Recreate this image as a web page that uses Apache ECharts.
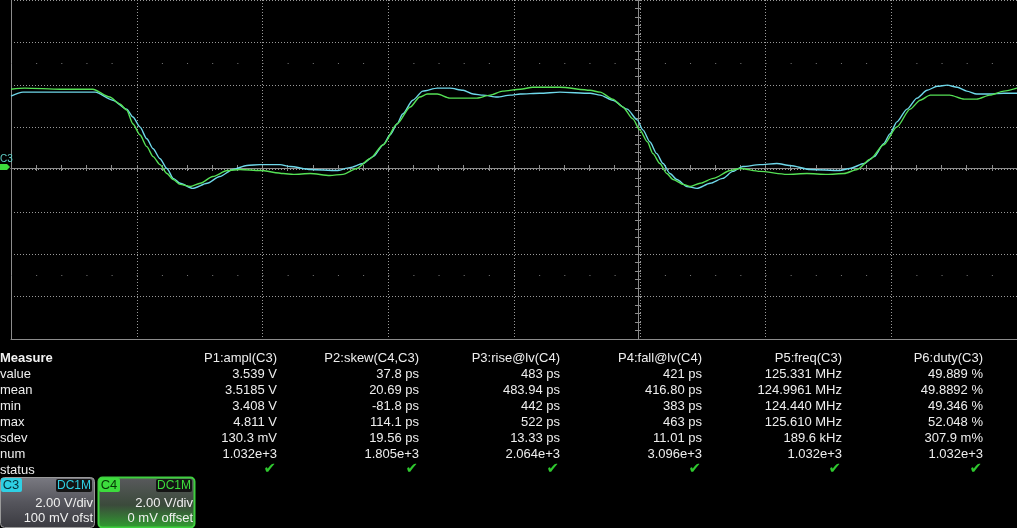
<!DOCTYPE html>
<html><head><meta charset="utf-8">
<script src="https://cdn.jsdelivr.net/npm/echarts@6/dist/echarts.min.js"></script>
<style>html,body{margin:0;padding:0;background:#000;}#chart{width:1017px;height:528px;}</style>
</head><body><div id="chart"></div>
<script>
// ---- Waveform data (time in ns, voltage in V) ----
const c3Time = [0,0.19,0.78,1.34,1.62,1.84,1.94,2.05,2.16,2.26,2.37,2.48,2.58,2.69,2.89,3.12,3.32,3.53,3.75,3.96,4.28,4.44,4.76,5.18,5.39,5.60,5.76,5.92,6.03,6.14,6.23,6.39,6.55,6.78,6.98,7.19,7.35,7.51,7.73,7.94,8.10,8.41,8.73,9.21,9.37,9.57,9.80,9.96,10.05,10.16,10.27,10.37,10.48,10.59,10.75,10.91,11.12,11.32,11.48,11.64,11.91,12.18,12.39,12.71,13.18,13.34,13.57,13.73,13.88,13.98,14.09,14.25,14.41,14.57,14.73,14.89,15.05,15.20,15.36,15.57,15.79,16.0];
const c3Volt = [3.46,3.65,3.65,3.65,3.27,2.85,2.48,2.01,1.45,0.98,0.51,0.05,-0.42,-0.65,-0.89,-0.65,-0.33,0,0.19,0.23,0.23,0.14,0,-0.05,0.09,0.28,0.61,1.17,1.64,2.15,2.62,3.27,3.70,3.84,3.84,3.74,3.56,3.51,3.42,3.51,3.56,3.60,3.65,3.60,3.51,3.27,2.85,2.34,1.87,1.31,0.75,0.28,-0.19,-0.47,-0.80,-0.89,-0.65,-0.42,-0.09,0.14,0.23,0.28,0.19,0,-0.05,0.05,0.28,0.61,1.22,1.68,2.25,2.85,3.37,3.74,3.93,3.98,3.88,3.70,3.56,3.56,3.60,3.60];
const c4Time = [0,0.22,0.78,1.30,1.57,1.73,1.84,1.94,2.05,2.16,2.26,2.37,2.48,2.58,2.69,2.85,3.01,3.21,3.44,3.64,3.96,4.33,4.49,4.76,5.07,5.28,5.50,5.71,5.92,6.14,6.35,6.50,6.62,6.78,6.98,7.41,7.62,7.82,8.10,8.30,8.73,9.21,9.37,9.57,9.73,9.89,10.00,10.12,10.21,10.32,10.43,10.53,10.69,10.80,10.96,11.17,11.44,11.59,11.91,12.34,12.66,12.98,13.25,13.46,13.66,13.88,14.09,14.30,14.46,14.62,14.93,15.16,15.36,15.57,15.79,16.0];
const c4Volt = [3.79,3.84,3.79,3.79,3.42,3.09,2.81,2.15,1.64,1.08,0.61,0.23,-0.19,-0.47,-0.70,-0.80,-0.65,-0.33,-0.05,0,-0.05,-0.19,-0.23,-0.19,-0.28,-0.23,0.05,0.51,1.17,2.15,2.95,3.42,3.56,3.56,3.37,3.37,3.51,3.70,3.79,3.88,3.88,3.74,3.65,3.32,2.95,2.39,1.87,1.31,0.75,0.28,-0.19,-0.47,-0.70,-0.80,-0.65,-0.42,-0.05,0.05,-0.09,-0.23,-0.19,-0.23,-0.19,0,0.47,1.17,2.01,2.85,3.27,3.51,3.51,3.32,3.32,3.51,3.70,3.84];

// ---- Measurement table ----
const measureTitle = 'Measure';
const measureLabels = ['value','mean','min','max','sdev','num','status'];
const paramHeaders = ['P1:ampl(C3)','P2:skew(C4,C3)','P3:rise@lv(C4)','P4:fall@lv(C4)','P5:freq(C3)','P6:duty(C3)'];
const p1Values = ['3.539 V','3.5185 V','3.408 V','4.811 V','130.3 mV','1.032e+3'];
const p2Values = ['37.8 ps','20.69 ps','-81.8 ps','114.1 ps','19.56 ps','1.805e+3'];
const p3Values = ['483 ps','483.94 ps','442 ps','522 ps','13.33 ps','2.064e+3'];
const p4Values = ['421 ps','416.80 ps','383 ps','463 ps','11.01 ps','3.096e+3'];
const p5Values = ['125.331 MHz','124.9961 MHz','124.440 MHz','125.610 MHz','189.6 kHz','1.032e+3'];
const p6Values = ['49.889 %','49.8892 %','49.346 %','52.048 %','307.9 m%','1.032e+3'];
const statusMark = '✔';

// ---- Channel descriptors ----
const c3Badge = ['C3','DC1M','2.00 V/div','100 mV ofst'];
const c4Badge = ['C4','DC1M','2.00 V/div','0 mV offset'];

const C3COL = '#6fd8ea', C4COL = '#55e055';
const GRIDCOL = '#9a9a9a', AXCOL = '#8c8c8c';
const FONT = "13px 'Liberation Sans', Arial, sans-serif";

function txt(x, y, s, fill, align, font) {
  return { type: 'text', x: x, y: y, z: 100,
    style: { text: s, fill: fill || '#eeeeee', font: font || FONT,
      align: align || 'left', textAlign: align || 'left',
      verticalAlign: 'middle', textVerticalAlign: 'middle' } };
}

const graphics = [];
// table
graphics.push(txt(0, 358, measureTitle, '#f2f2f2', 'left', "bold 13px 'Liberation Sans', Arial, sans-serif"));
measureLabels.forEach((l, i) => graphics.push(txt(0, 374 + 16 * i, l, '#eeeeee', 'left')));
const colRight = [277, 419, 560, 702, 842, 983];
const allVals = [p1Values, p2Values, p3Values, p4Values, p5Values, p6Values];
paramHeaders.forEach((h, c) => {
  graphics.push(txt(colRight[c], 358, h, '#eeeeee', 'right'));
  allVals[c].forEach((v, r) => graphics.push(txt(colRight[c], 374 + 16 * r, v, '#eeeeee', 'right')));
  graphics.push(txt(colRight[c] - 1, 469, statusMark, '#2fc82f', 'right', "bold 15px 'DejaVu Sans', sans-serif"));
});

// badges
function badge(x0, w, info, col, textDark, borderCol, grad) {
  graphics.push({ type: 'rect', z: 90, shape: { x: x0 + 0.5, y: 477.5, width: w, height: 50, r: 4 },
    style: { fill: grad, stroke: borderCol, lineWidth: borderCol === '#9a9a9a' ? 1 : 2 } });
  graphics.push({ type: 'rect', z: 95, shape: { x: x0 + 1, y: 478, width: 21, height: 14, r: 2 }, style: { fill: col } });
  graphics.push(txt(x0 + 11, 485.5, info[0], textDark, 'center'));
  graphics.push({ type: 'rect', z: 95, shape: { x: x0 + w - 38, y: 479, width: 36, height: 13, r: 2 }, style: { fill: '#141414' } });
  graphics.push(txt(x0 + w - 20, 485.5, info[1], col, 'center', "12px 'Liberation Sans', Arial, sans-serif"));
  graphics.push(txt(x0 + w - 1, 503, info[2], '#f0f0f0', 'right'));
  graphics.push(txt(x0 + w - 1, 518, info[3], '#f0f0f0', 'right'));
}
badge(0, 94, c3Badge, '#2fd0e4', '#05343c', '#9a9a9a',
  new echarts.graphic.LinearGradient(0, 0, 0, 1, [{offset:0,color:'#7a7a82'},{offset:0.5,color:'#55555c'},{offset:1,color:'#3a3a40'}]));
badge(98, 96, c4Badge, '#3ddc3d', '#063806', '#3fcf3f',
  new echarts.graphic.LinearGradient(0, 0, 0, 1, [{offset:0,color:'#5a5a5e'},{offset:0.55,color:'#3b4a3b'},{offset:1,color:'#2fa02f'}]));

// ground marker
graphics.push({ type: 'polygon', z: 80, shape: { points: [[0,164],[7,164],[10,167],[7,170],[0,170]] }, style: { fill: '#3ddc3d' } });
graphics.push(txt(0, 159, 'C3', '#5fd0c8', 'left', "10px 'Liberation Sans', Arial, sans-serif"));

const hideAll = { axisLabel: { show: false }, splitLine: { show: false } };

const option = {
  backgroundColor: '#000000',
  animation: false,
  grid: { left: 11, right: 0, top: -3, height: 342 },
  xAxis: [
    { type: 'value', min: 0, max: 16, interval: 2, position: 'bottom',
      axisLine: { onZero: false, lineStyle: { color: AXCOL, width: 1 } },
      axisTick: { show: false }, axisLabel: { show: false },
      splitLine: { show: true, lineStyle: { color: GRIDCOL, type: [1, 2], width: 1 } } },
    Object.assign({ type: 'value', min: 0, max: 16, interval: 0.4, position: 'bottom', offset: -171,
      axisLine: { onZero: false, lineStyle: { color: AXCOL } },
      axisTick: { show: true, length: 3, inside: false, lineStyle: { color: AXCOL } } }, hideAll),
    Object.assign({ type: 'value', min: 0, max: 16, interval: 0.4, position: 'bottom', offset: -171,
      axisLine: { onZero: false, lineStyle: { color: AXCOL } },
      axisTick: { show: true, length: 3, inside: true, lineStyle: { color: AXCOL } } }, hideAll)
  ],
  yAxis: [
    { type: 'value', min: -8, max: 8, interval: 2, position: 'left',
      axisLine: { show: true, onZero: false, lineStyle: { color: AXCOL, width: 1 } },
      axisTick: { show: false }, axisLabel: { show: false },
      splitLine: { show: true, lineStyle: { color: GRIDCOL, type: [1, 2], width: 1 } } },
    Object.assign({ type: 'value', min: -8, max: 8, interval: 0.4, position: 'left', offset: -627,
      axisLine: { show: true, onZero: false, lineStyle: { color: AXCOL } },
      axisTick: { show: true, length: 3, inside: false, lineStyle: { color: AXCOL } } }, hideAll),
    Object.assign({ type: 'value', min: -8, max: 8, interval: 0.4, position: 'left', offset: -627,
      axisLine: { show: true, onZero: false, lineStyle: { color: AXCOL } },
      axisTick: { show: true, length: 3, inside: true, lineStyle: { color: AXCOL } } }, hideAll)
  ],
  series: [
    { name: 'C3', type: 'line', xAxisIndex: 0, yAxisIndex: 0, showSymbol: false, smooth: 0.25, smoothMonotone: 'x',
      lineStyle: { color: C3COL, width: 1.4 }, itemStyle: { color: C3COL }, z: 5,
      data: c3Time.map((t, i) => [t, c3Volt[i]]),
      markLine: { silent: true, symbol: 'none', label: { show: false },
        lineStyle: { color: '#7a7a7a', type: [1, 24.15], width: 1 },
        data: [{ yAxis: 5 }, { yAxis: -5 }] } },
    { name: 'C4', type: 'line', xAxisIndex: 0, yAxisIndex: 0, showSymbol: false, smooth: 0.25, smoothMonotone: 'x',
      lineStyle: { color: C4COL, width: 1.4 }, itemStyle: { color: C4COL }, z: 6,
      data: c4Time.map((t, i) => [t, c4Volt[i]]) }
  ],
  graphic: { elements: graphics }
};
const chart = echarts.init(document.getElementById('chart'), null, { renderer: 'canvas' });
chart.setOption(option);
</script></body></html>
